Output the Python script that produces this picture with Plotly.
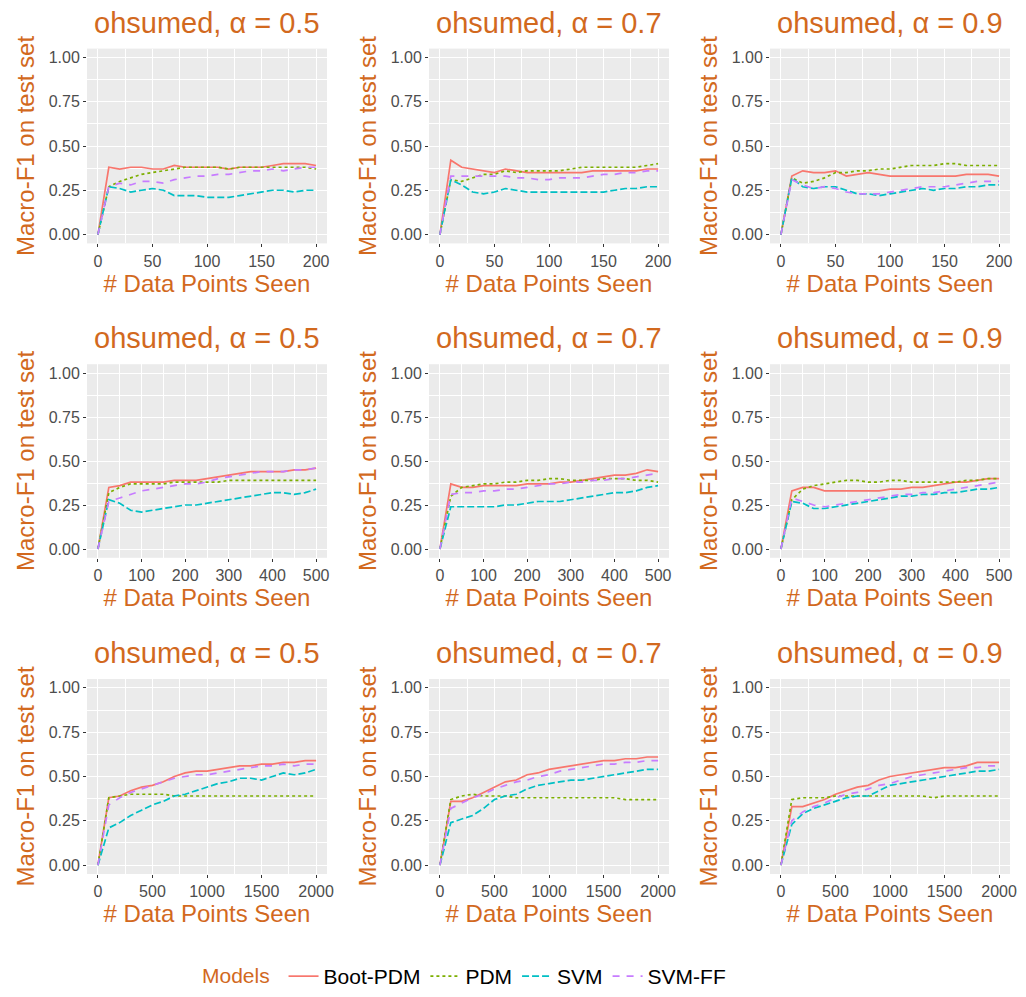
import plotly.graph_objects as go

# ---------------- data ----------------
models = ["Boot-PDM", "PDM", "SVM", "SVM-FF"]
alphas = ["0.5", "0.7", "0.9"]

x200 = [0, 10, 20, 30, 40, 50, 60, 70, 80, 90, 100, 110, 120, 130, 140, 150, 160, 170, 180, 190, 200]
x500 = [0, 25, 50, 75, 100, 125, 150, 175, 200, 225, 250, 275, 300, 325, 350, 375, 400, 425, 450, 475, 500]
x2000 = [0, 100, 200, 300, 400, 500, 600, 700, 800, 900, 1000, 1100, 1200, 1300, 1400, 1500, 1600, 1700, 1800, 1900, 2000]

xticks200 = [0, 50, 100, 150, 200]
xticks500 = [0, 100, 200, 300, 400, 500]
xticks2000 = [0, 500, 1000, 1500, 2000]
yticks = [0.0, 0.25, 0.5, 0.75, 1.0]

# row 1 (200 points)
boot_05_200 = [0, .38, .37, .38, .38, .37, .37, .39, .38, .38, .38, .38, .37, .38, .38, .38, .39, .40, .40, .40, .39]
pdm_05_200 = [0, .27, .30, .32, .34, .35, .36, .37, .38, .38, .38, .38, .37, .38, .38, .38, .38, .38, .38, .38, .37]
svm_05_200 = [0, .27, .26, .24, .25, .26, .25, .22, .22, .22, .21, .21, .21, .22, .23, .24, .25, .25, .24, .25, .25]
svmff_05_200 = [0, .27, .29, .28, .30, .30, .29, .31, .32, .33, .33, .34, .34, .35, .36, .36, .37, .36, .37, .38, .38]

boot_07_200 = [0, .42, .38, .37, .36, .35, .37, .36, .35, .35, .35, .35, .35, .35, .36, .36, .36, .36, .36, .37, .37]
pdm_07_200 = [0, .31, .30, .32, .34, .34, .36, .35, .36, .36, .36, .36, .37, .38, .38, .38, .38, .38, .38, .39, .40]
svm_07_200 = [0, .31, .28, .24, .23, .24, .26, .25, .24, .24, .24, .24, .24, .24, .24, .24, .25, .26, .26, .27, .27]
svmff_07_200 = [0, .33, .33, .33, .33, .33, .33, .32, .32, .31, .31, .32, .32, .32, .33, .34, .34, .35, .35, .36, .36]

boot_09_200 = [0, .33, .36, .35, .35, .36, .33, .34, .35, .34, .33, .33, .33, .33, .33, .33, .33, .34, .34, .34, .33]
pdm_09_200 = [0, .32, .29, .30, .32, .35, .35, .36, .36, .37, .37, .38, .39, .39, .39, .40, .40, .39, .39, .39, .39]
svm_09_200 = [0, .32, .27, .26, .27, .27, .25, .23, .23, .22, .23, .24, .25, .26, .25, .26, .26, .27, .27, .28, .28]
svmff_09_200 = [0, .31, .28, .26, .27, .26, .24, .23, .23, .23, .24, .25, .26, .27, .27, .27, .28, .29, .30, .30, .30]

# row 2 (500 points)
boot_05_500 = [0, .35, .36, .38, .38, .38, .38, .39, .39, .39, .40, .41, .42, .43, .44, .44, .44, .44, .45, .45, .46]
pdm_05_500 = [0, .32, .35, .37, .37, .37, .37, .38, .38, .38, .38, .38, .39, .39, .39, .39, .39, .39, .39, .39, .39]
svm_05_500 = [0, .28, .26, .22, .21, .22, .23, .24, .25, .25, .26, .27, .28, .29, .30, .31, .32, .32, .31, .32, .34]
svmff_05_500 = [0, .27, .29, .31, .33, .34, .35, .36, .37, .37, .38, .40, .41, .42, .43, .44, .44, .44, .45, .45, .46]

boot_07_500 = [0, .37, .35, .35, .36, .36, .36, .36, .37, .37, .37, .38, .38, .39, .40, .41, .42, .42, .43, .45, .44]
pdm_07_500 = [0, .30, .35, .36, .37, .37, .38, .38, .39, .39, .40, .40, .39, .39, .39, .40, .40, .40, .39, .39, .38]
svm_07_500 = [0, .24, .24, .24, .24, .24, .25, .25, .26, .27, .27, .27, .28, .29, .30, .31, .32, .32, .33, .35, .36]
svmff_07_500 = [0, .31, .32, .32, .33, .33, .34, .34, .35, .36, .37, .37, .38, .38, .39, .39, .40, .40, .41, .42, .43]

boot_09_500 = [0, .33, .35, .35, .33, .33, .33, .33, .33, .33, .34, .34, .35, .35, .36, .37, .38, .38, .39, .40, .40]
pdm_09_500 = [0, .28, .34, .36, .37, .38, .39, .39, .38, .38, .39, .39, .38, .38, .38, .38, .38, .39, .39, .40, .40]
svm_09_500 = [0, .27, .26, .23, .23, .24, .25, .26, .27, .28, .29, .30, .30, .31, .31, .32, .32, .33, .34, .34, .35]
svmff_09_500 = [0, .29, .27, .25, .24, .25, .26, .27, .28, .29, .30, .31, .31, .32, .32, .33, .34, .35, .36, .37, .38]

# row 3 (2000 points)
boot_05_2000 = [0, .38, .39, .42, .44, .45, .47, .50, .52, .53, .53, .54, .55, .56, .56, .57, .57, .58, .58, .59, .59]
pdm_05_2000 = [0, .38, .39, .40, .40, .40, .40, .39, .39, .39, .39, .39, .39, .39, .39, .39, .39, .39, .39, .39, .39]
svm_05_2000 = [0, .21, .24, .28, .31, .34, .36, .39, .40, .42, .44, .46, .47, .49, .49, .48, .50, .52, .51, .52, .54]
svmff_05_2000 = [0, .34, .38, .41, .43, .45, .47, .49, .50, .51, .51, .52, .53, .54, .55, .56, .56, .57, .56, .57, .57]

boot_07_2000 = [0, .36, .36, .38, .41, .44, .47, .48, .51, .52, .54, .55, .56, .57, .58, .59, .59, .60, .60, .61, .61]
pdm_07_2000 = [0, .37, .39, .40, .39, .39, .39, .38, .38, .38, .38, .38, .38, .38, .38, .38, .38, .37, .37, .37, .37]
svm_07_2000 = [0, .24, .26, .28, .32, .37, .39, .40, .43, .45, .46, .47, .48, .48, .49, .50, .51, .52, .53, .54, .54]
svmff_07_2000 = [0, .32, .35, .38, .40, .43, .45, .47, .48, .50, .51, .53, .54, .55, .56, .57, .57, .58, .58, .59, .59]

boot_09_2000 = [0, .33, .33, .35, .37, .40, .42, .44, .45, .48, .50, .51, .52, .53, .54, .55, .55, .56, .58, .58, .58]
pdm_09_2000 = [0, .37, .38, .38, .38, .39, .39, .39, .39, .39, .39, .39, .39, .39, .38, .39, .39, .39, .39, .39, .39]
svm_09_2000 = [0, .23, .29, .32, .34, .36, .38, .39, .39, .42, .45, .46, .47, .48, .49, .50, .51, .52, .53, .53, .54]
svmff_09_2000 = [0, .25, .30, .33, .35, .38, .40, .41, .43, .45, .46, .48, .50, .51, .52, .53, .54, .55, .55, .56, .56]

# ---------------- styling ----------------
colors = ["#F8766D", "#7CAE00", "#00BFC4", "#C77CFF"]
dashes = ["solid", "3px,3px", "7px,3px", "7px,7px"]
accent = "#D2691E"
font_family = "Liberation Sans, Arial, Helvetica, sans-serif"

panels = [
    (x200, xticks200, 0, 0, alphas[0], [boot_05_200, pdm_05_200, svm_05_200, svmff_05_200]),
    (x200, xticks200, 0, 1, alphas[1], [boot_07_200, pdm_07_200, svm_07_200, svmff_07_200]),
    (x200, xticks200, 0, 2, alphas[2], [boot_09_200, pdm_09_200, svm_09_200, svmff_09_200]),
    (x500, xticks500, 1, 0, alphas[0], [boot_05_500, pdm_05_500, svm_05_500, svmff_05_500]),
    (x500, xticks500, 1, 1, alphas[1], [boot_07_500, pdm_07_500, svm_07_500, svmff_07_500]),
    (x500, xticks500, 1, 2, alphas[2], [boot_09_500, pdm_09_500, svm_09_500, svmff_09_500]),
    (x2000, xticks2000, 2, 0, alphas[0], [boot_05_2000, pdm_05_2000, svm_05_2000, svmff_05_2000]),
    (x2000, xticks2000, 2, 1, alphas[1], [boot_07_2000, pdm_07_2000, svm_07_2000, svmff_07_2000]),
    (x2000, xticks2000, 2, 2, alphas[2], [boot_09_2000, pdm_09_2000, svm_09_2000, svmff_09_2000]),
]

W, H = 1026, 997
col_px = [(87, 327), (429, 669), (770, 1010)]
row_px = [(48.6, 243.4), (364.2, 557.8), (679.0, 874.0)]

fig = go.Figure()
annotations = []

for i, (xs, xt, r, c, a, series) in enumerate(panels):
    n = i + 1
    xa = "x" if n == 1 else f"x{n}"
    ya = "y" if n == 1 else f"y{n}"
    for k, ys in enumerate(series):
        fig.add_trace(go.Scatter(
            x=xs, y=ys, mode="lines", name=models[k],
            line=dict(color=colors[k], dash=dashes[k], width=1.7),
            xaxis=xa, yaxis=ya, legendgroup=models[k], showlegend=(n == 1),
        ))
    xmax = xs[-1]
    dom_x = [col_px[c][0] / W, col_px[c][1] / W]
    dom_y = [1 - row_px[r][1] / H, 1 - row_px[r][0] / H]
    step = xt[1] - xt[0]
    axis_common = dict(
        showgrid=True, gridcolor="white", gridwidth=1.2,
        zeroline=False, showline=False,
        ticks="outside", ticklen=3, tickwidth=1, tickcolor="#333333",
        tickfont=dict(size=16, color="#4D4D4D", family=font_family),
    )
    fig.update_layout(**{
        ("xaxis" if n == 1 else f"xaxis{n}"): dict(
            axis_common, domain=dom_x, anchor=ya,
            range=[-0.05 * xmax, 1.05 * xmax],
            tickmode="array", tickvals=xt, ticktext=[str(v) for v in xt],
            minor=dict(showgrid=True, gridcolor="white", gridwidth=0.6, dtick=step / 2, tick0=0, ticks=""),
            title=dict(text="# Data Points Seen", standoff=4,
                       font=dict(size=24, color=accent, family=font_family)),
        ),
        ("yaxis" if n == 1 else f"yaxis{n}"): dict(
            axis_common, domain=dom_y, anchor=xa,
            range=[-0.05, 1.05],
            tickmode="array", tickvals=yticks, ticktext=[f"{v:.2f}" for v in yticks],
            minor=dict(showgrid=True, gridcolor="white", gridwidth=0.6, dtick=0.125, tick0=0, ticks=""),
            title=dict(text="Macro-F1 on test set", standoff=7,
                       font=dict(size=24, color=accent, family=font_family)),
        ),
    })
    annotations.append(dict(
        text=f"ohsumed, α = {a}", xref="paper", yref="paper",
        x=(dom_x[0] + dom_x[1]) / 2, y=1 - (row_px[r][0] - 26) / H,
        xanchor="center", yanchor="middle", showarrow=False,
        font=dict(size=29, color=accent, family=font_family),
    ))

fig.update_layout(
    width=W, height=H,
    margin=dict(l=0, r=0, t=0, b=0, autoexpand=False),
    paper_bgcolor="white", plot_bgcolor="#EBEBEB",
    font=dict(family=font_family, color="#000000"),
    annotations=annotations,
    legend=dict(
        orientation="h", x=200 / W, xanchor="left", y=0.0, yanchor="bottom",
        title=dict(text="Models ", font=dict(size=21, color=accent, family=font_family)),
        font=dict(size=21, color="#000000", family=font_family),
        bgcolor="rgba(0,0,0,0)", itemwidth=30,
    ),
)

fig.write_html("out.html")
